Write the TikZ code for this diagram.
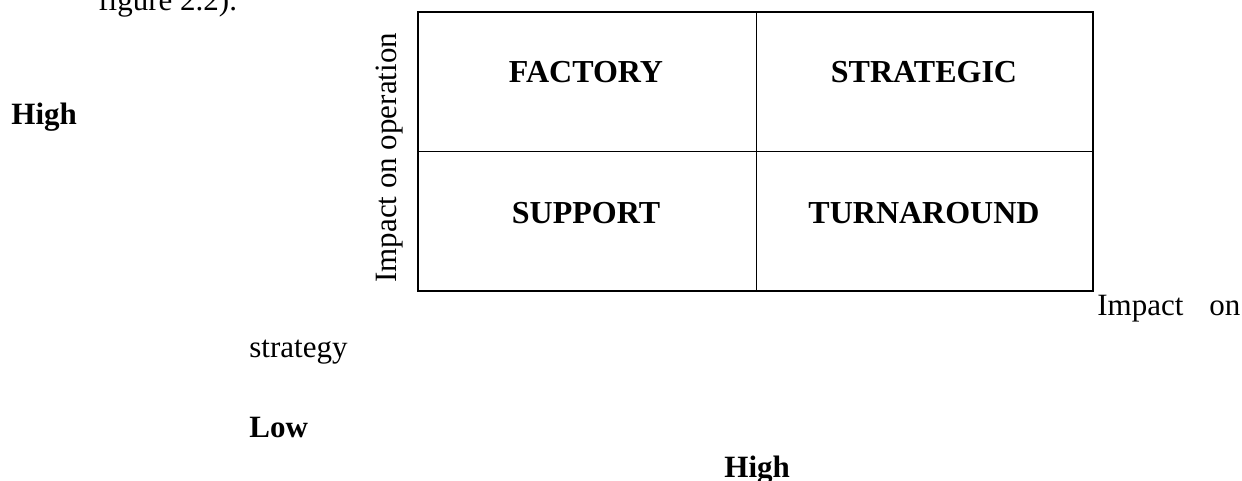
\documentclass[tikz,border=0pt]{standalone}
\usepackage{fontspec}
\setmainfont{Liberation Serif}
\begin{document}
\begin{tikzpicture}[x=0.5pt,y=-0.5pt,
  txt/.style={inner sep=0pt,font=\fontsize{15.5}{18}\selectfont},
  boldtxt/.style={txt,font=\fontsize{15.5}{18}\selectfont\bfseries},
  quad/.style={inner sep=0pt,font=\fontsize{16}{19}\selectfont\bfseries,anchor=base},
  frame/.style={line width=0.8pt},
  divider/.style={line width=0.5pt}]
\useasboundingbox (0,0) rectangle (1242,481);
% corners and midpoints of the grid
\coordinate (tl) at (418,12);
\coordinate (br) at (1093,291);
\coordinate (tm) at (756,12);
\coordinate (bm) at (756,291);
\coordinate (ml) at (418,152);
\coordinate (mr) at (1093,152);
\draw[divider] (tm) -- (bm);
\draw[divider] (ml) -- (mr);
\draw[frame] (tl) rectangle (br);
% quadrant labels
\node[quad] (factory) at (586,83) {FACTORY};
\node[quad] (strategic) at (924,83) {STRATEGIC};
\node[quad] (support) at (586,223) {SUPPORT};
\node[quad] (turnaround) at (924,223) {TURNAROUND};
% axis texts
\node[txt,anchor=base west,rotate=90] (yaxis) at (396,283) {Impact on operation};
\node[txt,anchor=base west] (xaxis1) at (1097,315) {Impact\hspace{13pt}on};
\node[txt,anchor=base west] (xaxis2) at (249,357) {strategy};
\node[boldtxt,anchor=base west] (yhigh) at (11,125) {High};
\node[boldtxt,anchor=base west] (low) at (249,437) {Low};
\node[boldtxt,anchor=base west] (xhigh) at (724,477) {High};
\node[txt,anchor=base west] (caption) at (98,11) {figure 2.2).};
\end{tikzpicture}
\end{document}
